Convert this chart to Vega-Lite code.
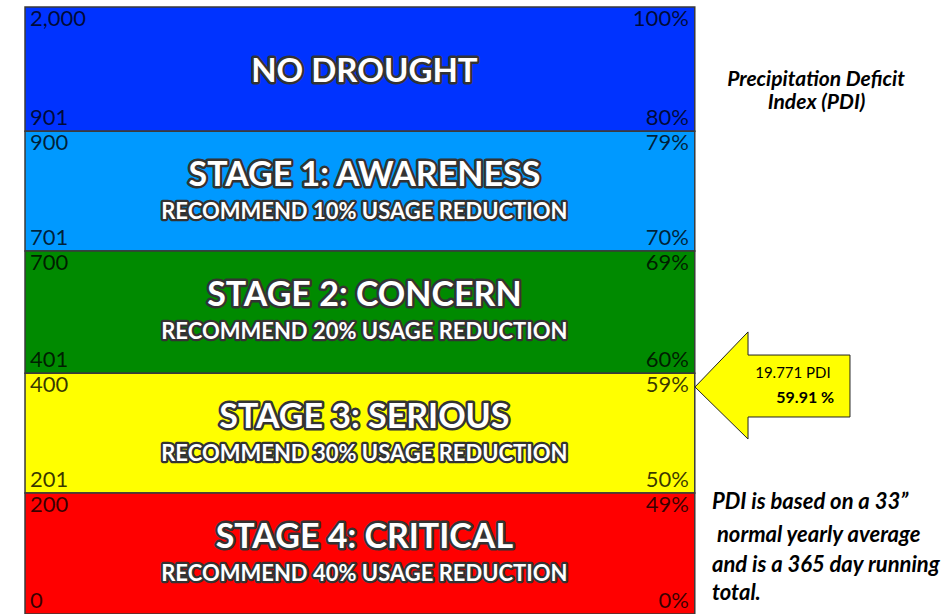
{
  "$schema": "https://vega.github.io/schema/vega-lite/v6.json",
  "width": 944,
  "height": 614,
  "autosize": {"type": "none"},
  "padding": 0,
  "background": "white",
  "config": {"view": {"stroke": null}, "axis": {"disable": true}},
  "datasets": {
    "bands": [
      {"stage": "NO DROUGHT", "sub": "", "hiN": "2,000", "loN": "901", "hiP": "100%", "loP": "80%", "top": 5.017, "bottom": 3.99},
      {"stage": "STAGE 1: AWARENESS", "sub": "RECOMMEND 10% USAGE REDUCTION", "hiN": "900", "loN": "701", "hiP": "79%", "loP": "70%", "top": 3.99, "bottom": 3.0},
      {"stage": "STAGE 2: CONCERN", "sub": "RECOMMEND 20% USAGE REDUCTION", "hiN": "700", "loN": "401", "hiP": "69%", "loP": "60%", "top": 3.0, "bottom": 1.99},
      {"stage": "STAGE 3: SERIOUS", "sub": "RECOMMEND 30% USAGE REDUCTION", "hiN": "400", "loN": "201", "hiP": "59%", "loP": "50%", "top": 1.99, "bottom": 1.0},
      {"stage": "STAGE 4: CRITICAL", "sub": "RECOMMEND 40% USAGE REDUCTION", "hiN": "200", "loN": "0", "hiP": "49%", "loP": "0%", "top": 1.0, "bottom": 0}
    ],
    "arrow": [
      {"i": 0, "x": 73.62, "y": 1.876},
      {"i": 1, "x": 79.24, "y": 2.331},
      {"i": 2, "x": 79.24, "y": 2.140},
      {"i": 3, "x": 90.04, "y": 2.140},
      {"i": 4, "x": 90.04, "y": 1.628},
      {"i": 5, "x": 79.24, "y": 1.628},
      {"i": 6, "x": 79.24, "y": 1.446},
      {"i": 7, "x": 73.62, "y": 1.876}
    ],
    "notes": [
      {"t": "19.771 PDI", "x": 84.0, "y": 1.992, "kind": "arrowA"},
      {"t": "59.91 %", "x": 85.3, "y": 1.785, "kind": "arrowB"},
      {"t": "Precipitation Deficit", "x": 86.44, "y": 4.413, "kind": "head"},
      {"t": "Index (PDI)", "x": 86.5, "y": 4.223, "kind": "head"},
      {"t": "PDI is based on a 33\u201d", "x": 75.42, "y": 0.926, "kind": "foot"},
      {"t": "normal yearly average", "x": 75.95, "y": 0.653, "kind": "foot"},
      {"t": "and is a 365 day running", "x": 75.42, "y": 0.405, "kind": "foot"},
      {"t": "total.", "x": 75.42, "y": 0.174, "kind": "foot"}
    ]
  },
  "layer": [
    {
      "data": {"name": "bands"},
      "layer": [
        {
          "mark": {"type": "rect", "stroke": "#3a3a3a", "strokeWidth": 1.5},
          "encoding": {
            "x": {"datum": 2.65, "type": "quantitative", "scale": {"domain": [0, 100], "nice": false, "zero": false}},
            "x2": {"datum": 73.6},
            "y": {"field": "top", "type": "quantitative", "scale": {"domain": [0, 5.074], "nice": false, "zero": false}},
            "y2": {"field": "bottom"},
            "fill": {"field": "stage", "type": "nominal", "legend": null,
              "scale": {"domain": ["NO DROUGHT", "STAGE 1: AWARENESS", "STAGE 2: CONCERN", "STAGE 3: SERIOUS", "STAGE 4: CRITICAL"],
                        "range": ["#0033FF", "#0099FF", "#008A00", "#FFFF00", "#FF0000"]}}
          }
        },
        {
          "mark": {"type": "text", "align": "left", "baseline": "middle", "dx": 5, "dy": 12, "font": "Lato", "fontSize": 22, "fill": "#000", "fillOpacity": 0.78},
          "encoding": {"x": {"datum": 2.65, "type": "quantitative"}, "y": {"field": "top", "type": "quantitative"}, "text": {"field": "hiN"}}
        },
        {
          "mark": {"type": "text", "align": "left", "baseline": "middle", "dx": 5, "dy": -13, "font": "Lato", "fontSize": 22, "fill": "#000", "fillOpacity": 0.78},
          "encoding": {"x": {"datum": 2.65, "type": "quantitative"}, "y": {"field": "bottom", "type": "quantitative"}, "text": {"field": "loN"}}
        },
        {
          "mark": {"type": "text", "align": "right", "baseline": "middle", "dx": -6, "dy": 12, "font": "Lato", "fontSize": 22, "fill": "#000", "fillOpacity": 0.78},
          "encoding": {"x": {"datum": 73.6, "type": "quantitative"}, "y": {"field": "top", "type": "quantitative"}, "text": {"field": "hiP"}}
        },
        {
          "mark": {"type": "text", "align": "right", "baseline": "middle", "dx": -6, "dy": -13, "font": "Lato", "fontSize": 22, "fill": "#000", "fillOpacity": 0.78},
          "encoding": {"x": {"datum": 73.6, "type": "quantitative"}, "y": {"field": "bottom", "type": "quantitative"}, "text": {"field": "loP"}}
        },
        {
          "transform": [{"filter": "datum.sub == ''"}],
          "mark": {"type": "text", "align": "center", "baseline": "middle", "dy": 65, "font": "Lato", "fontWeight": "bold", "fontSize": 33, "fill": "#333", "stroke": "#333", "strokeWidth": 5, "strokeJoin": "round"},
          "encoding": {"x": {"datum": 38.6, "type": "quantitative"}, "y": {"field": "top", "type": "quantitative"}, "text": {"field": "stage"}}
        },
        {
          "transform": [{"filter": "datum.sub == ''"}],
          "mark": {"type": "text", "align": "center", "baseline": "middle", "dy": 65, "font": "Lato", "fontWeight": "bold", "fontSize": 33, "fill": "white"},
          "encoding": {"x": {"datum": 38.6, "type": "quantitative"}, "y": {"field": "top", "type": "quantitative"}, "text": {"field": "stage"}}
        },
        {
          "transform": [{"filter": "datum.sub != ''"}],
          "mark": {"type": "text", "align": "center", "baseline": "middle", "dy": 45, "font": "Lato", "fontWeight": "bold", "fontSize": 34, "fill": "#333", "stroke": "#333", "strokeWidth": 5, "strokeJoin": "round"},
          "encoding": {"x": {"datum": 38.6, "type": "quantitative"}, "y": {"field": "top", "type": "quantitative"}, "text": {"field": "stage"}}
        },
        {
          "transform": [{"filter": "datum.sub != ''"}],
          "mark": {"type": "text", "align": "center", "baseline": "middle", "dy": 45, "font": "Lato", "fontWeight": "bold", "fontSize": 34, "fill": "white"},
          "encoding": {"x": {"datum": 38.6, "type": "quantitative"}, "y": {"field": "top", "type": "quantitative"}, "text": {"field": "stage"}}
        },
        {
          "transform": [{"filter": "datum.sub != ''"}],
          "mark": {"type": "text", "align": "center", "baseline": "middle", "dy": 81, "font": "Lato", "fontWeight": "bold", "fontSize": 22, "fill": "#333", "stroke": "#333", "strokeWidth": 4.5, "strokeJoin": "round"},
          "encoding": {"x": {"datum": 38.6, "type": "quantitative"}, "y": {"field": "top", "type": "quantitative"}, "text": {"field": "sub"}}
        },
        {
          "transform": [{"filter": "datum.sub != ''"}],
          "mark": {"type": "text", "align": "center", "baseline": "middle", "dy": 81, "font": "Lato", "fontWeight": "bold", "fontSize": 22, "fill": "white"},
          "encoding": {"x": {"datum": 38.6, "type": "quantitative"}, "y": {"field": "top", "type": "quantitative"}, "text": {"field": "sub"}}
        }
      ]
    },
    {
      "data": {"name": "arrow"},
      "mark": {"type": "line", "fill": "#FFFF00", "stroke": "#222", "strokeWidth": 1, "strokeJoin": "miter"},
      "encoding": {
        "x": {"field": "x", "type": "quantitative"},
        "y": {"field": "y", "type": "quantitative"},
        "order": {"field": "i", "type": "quantitative"}
      }
    },
    {
      "data": {"name": "notes"},
      "layer": [
        {
          "transform": [{"filter": "datum.kind == 'arrowA'"}],
          "mark": {"type": "text", "align": "center", "baseline": "middle", "font": "Lato", "fontSize": 15, "fill": "#000"},
          "encoding": {"x": {"field": "x", "type": "quantitative"}, "y": {"field": "y", "type": "quantitative"}, "text": {"field": "t"}}
        },
        {
          "transform": [{"filter": "datum.kind == 'arrowB'"}],
          "mark": {"type": "text", "align": "center", "baseline": "middle", "font": "Lato", "fontWeight": "bold", "fontSize": 16, "fill": "#000"},
          "encoding": {"x": {"field": "x", "type": "quantitative"}, "y": {"field": "y", "type": "quantitative"}, "text": {"field": "t"}}
        },
        {
          "transform": [{"filter": "datum.kind == 'head'"}],
          "mark": {"type": "text", "align": "center", "baseline": "middle", "font": "Lato", "fontWeight": "bold", "fontStyle": "italic", "fontSize": 21, "fill": "#000"},
          "encoding": {"x": {"field": "x", "type": "quantitative"}, "y": {"field": "y", "type": "quantitative"}, "text": {"field": "t"}}
        },
        {
          "transform": [{"filter": "datum.kind == 'foot'"}],
          "mark": {"type": "text", "align": "left", "baseline": "middle", "font": "Lato", "fontWeight": "bold", "fontStyle": "italic", "fontSize": 22, "fill": "#000"},
          "encoding": {"x": {"field": "x", "type": "quantitative"}, "y": {"field": "y", "type": "quantitative"}, "text": {"field": "t"}}
        }
      ]
    }
  ]
}
